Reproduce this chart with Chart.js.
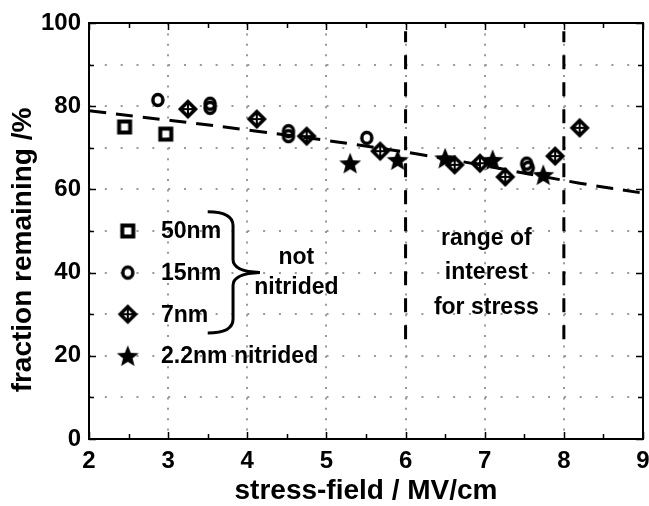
<!DOCTYPE html>
<html>
<head>
<meta charset="utf-8">
<script src="https://cdn.jsdelivr.net/npm/chart.js@4.4.1/dist/chart.umd.min.js"></script>
<style>
  html, body { margin: 0; padding: 0; background: #fff; }
</style>
</head>
<body>
<canvas id="chart" width="649" height="506"></canvas>
<script>
const FONT = '"Liberation Sans", Arial, Helvetica, sans-serif';

// 50nm, not nitrided
const x50 = [2.45, 2.97];
const y50 = [75.0, 73.3];
// 15nm, not nitrided
const x15 = [2.87, 3.53, 3.53, 4.52, 4.52, 5.51, 7.53, 7.55];
const y15 = [81.5, 80.6, 79.6, 74.0, 72.8, 72.4, 66.2, 65.2];
// 7nm, not nitrided
const x7 = [3.25, 4.12, 4.75, 5.68, 6.62, 6.94, 7.26, 7.89, 8.20];
const y7 = [79.3, 76.9, 72.8, 69.2, 65.9, 66.3, 63.0, 68.0, 74.8];
// 2.2nm nitrided
const x22 = [5.30, 5.90, 6.50, 7.10, 7.74];
const y22 = [66.3, 67.1, 67.5, 67.1, 63.5];
// dashed trend line
const xFit = [2, 4.12, 6.15, 8.2, 9];
const yFit = [78.9, 74.0, 68.5, 61.5, 59.1];
// vertical dashed lines bounding the range of interest
const xRange = [6, 8];
const yRangeSpan = [24, 98];

const xTicks = [2, 3, 4, 5, 6, 7, 8, 9];
const yTicks = [0, 20, 40, 60, 80, 100];

function toPoints(xs, ys) {
    return xs.map((x, i) => ({ x: x, y: ys[i] }));
}

// marker pictures (open square, open circle, diamond with cross, filled star)
function makeMarker(kind) {
    const c = document.createElement('canvas');
    const s = kind === 'star' ? 26 : (kind === 'diamond' ? 24 : 20);
    c.width = s; c.height = s;
    const g = c.getContext('2d');
    const m = s / 2;
    g.strokeStyle = '#000';
    g.fillStyle = '#000';
    if (kind === 'square') {
        g.lineWidth = 4;
        g.strokeRect(m - 5.5, m - 5.5, 11, 11);
    } else if (kind === 'circle') {
        g.lineWidth = 3.5;
        g.beginPath();
        g.ellipse(m, m, 5.0, 5.5, 0, 0, Math.PI * 2);
        g.stroke();
    } else if (kind === 'diamond') {
        g.lineWidth = 3.5;
        g.lineJoin = 'miter';
        g.beginPath();
        g.moveTo(m, m - 7.6); g.lineTo(m + 7.6, m); g.lineTo(m, m + 7.6); g.lineTo(m - 7.6, m);
        g.closePath();
        g.stroke();
        g.lineWidth = 2;
        g.beginPath();
        g.moveTo(m, m - 6.5); g.lineTo(m, m + 6.5);
        g.moveTo(m - 6.5, m); g.lineTo(m + 6.5, m);
        g.stroke();
    } else {
        g.beginPath();
        for (let i = 0; i < 10; i++) {
            const r = i % 2 === 0 ? 11.5 : 5;
            const a = -Math.PI / 2 + i * Math.PI / 5;
            const px = m + r * Math.cos(a), py = m + 1 + r * Math.sin(a);
            if (i === 0) g.moveTo(px, py); else g.lineTo(px, py);
        }
        g.closePath();
        g.fill();
    }
    return c;
}

const mkSquare = makeMarker('square');
const mkCircle = makeMarker('circle');
const mkDiamond = makeMarker('diamond');
const mkStar = makeMarker('star');

// frame, inside ticks, legend, brace and notes
const decorations = {
    id: 'decorations',
    afterDatasetsDraw(chart) {
        const ctx = chart.ctx;
        const xs = chart.scales.x, ys = chart.scales.y;
        const a = chart.chartArea;
        const X = v => xs.getPixelForValue(v);
        const Y = v => ys.getPixelForValue(v);
        ctx.save();

        // frame
        ctx.strokeStyle = '#000';
        ctx.lineWidth = 2;
        ctx.strokeRect(a.left, a.top, a.right - a.left, a.bottom - a.top);

        // tick marks pointing inward
        ctx.lineWidth = 1.5;
        ctx.beginPath();
        for (let v = 2; v <= 9.001; v += 0.5) {
            const p = Math.round(X(v)) + 0.5;
            const len = Number.isInteger(v) ? 7 : 5;
            ctx.moveTo(p, a.bottom); ctx.lineTo(p, a.bottom - len);
            ctx.moveTo(p, a.top); ctx.lineTo(p, a.top + len);
        }
        for (let v = 0; v <= 100; v += 10) {
            const p = Math.round(Y(v)) + 0.5;
            const len = v % 20 === 0 ? 7 : 5;
            ctx.moveTo(a.left, p); ctx.lineTo(a.left + len, p);
            ctx.moveTo(a.right, p); ctx.lineTo(a.right - len, p);
        }
        ctx.stroke();

        // legend
        const rows = [
            [mkSquare, '50nm', 50],
            [mkCircle, '15nm', 40],
            [mkDiamond, '7nm', 30],
            [mkStar, '2.2nm nitrided', 20]
        ];
        ctx.fillStyle = '#000';
        ctx.font = 'bold 23px ' + FONT;
        ctx.textBaseline = 'middle';
        ctx.textAlign = 'left';
        rows.forEach(r => {
            const img = r[0];
            ctx.drawImage(img, X(2.49) - img.width / 2, Y(r[2]) - img.height / 2);
            ctx.fillText(r[1], X(2.91), Y(r[2]) + 1);
        });

        // brace grouping the not nitrided samples
        const bx = X(3.82), bl = X(3.5), bt = X(4.16);
        const t = Y(54.6), mid = Y(40), b = Y(25.5);
        ctx.lineWidth = 3;
        ctx.beginPath();
        ctx.moveTo(bl, t);
        ctx.quadraticCurveTo(bx, t, bx, t + 14);
        ctx.lineTo(bx, mid - 13);
        ctx.quadraticCurveTo(bx, mid - 1, bt, mid);
        ctx.quadraticCurveTo(bx, mid + 1, bx, mid + 13);
        ctx.lineTo(bx, b - 14);
        ctx.quadraticCurveTo(bx, b, bl, b);
        ctx.stroke();

        ctx.textAlign = 'center';
        ctx.fillText('not', X(4.62), Y(43.5));
        ctx.fillText('nitrided', X(4.62), Y(36.3));

        ctx.fillText('range of', X(7.02), Y(48.2));
        ctx.fillText('interest', X(7.02), Y(40.0));
        ctx.fillText('for stress', X(7.02), Y(31.5));

        // axis titles
        ctx.font = 'bold 28px ' + FONT;
        ctx.fillText('stress-field / MV/cm', (a.left + a.right) / 2, 491);
        ctx.translate(23, 250);
        ctx.rotate(-Math.PI / 2);
        ctx.fillText('fraction remaining /%', 0, 0);
        ctx.restore();
    }
};

const rangeSets = xRange.map(x => ({
    type: 'line',
    data: toPoints([x, x], yRangeSpan),
    borderColor: '#000',
    borderWidth: 3,
    borderDash: [14, 13],
    pointRadius: 0,
    fill: false
}));

new Chart(document.getElementById('chart'), {
    type: 'scatter',
    data: {
        datasets: [
            { label: '2.2nm nitrided', data: toPoints(x22, y22), pointStyle: mkStar, pointRadius: 10 },
            { label: '7nm', data: toPoints(x7, y7), pointStyle: mkDiamond, pointRadius: 9 },
            { label: '15nm', data: toPoints(x15, y15), pointStyle: mkCircle, pointRadius: 7 },
            { label: '50nm', data: toPoints(x50, y50), pointStyle: mkSquare, pointRadius: 7 },
            {
                type: 'line', label: 'fit', data: toPoints(xFit, yFit),
                borderColor: '#000', borderWidth: 3, borderDash: [17, 10],
                pointRadius: 0, tension: 0.4, fill: false
            },
            ...rangeSets
        ]
    },
    options: {
        responsive: false,
        animation: false,
        events: [],
        layout: { autoPadding: false, padding: { top: 23, right: 6, left: 0, bottom: 0 } },
        plugins: { legend: { display: false }, tooltip: { enabled: false } },
        scales: {
            x: {
                type: 'linear', min: 2, max: 9,
                afterFit: s => { s.height = 67; s.paddingLeft = 0; s.paddingRight = 0; },
                afterBuildTicks: s => { s.ticks = []; for (let v = 2; v <= 9; v += 0.5) s.ticks.push({ value: v }); },
                ticks: {
                    autoSkip: false, maxRotation: 0, padding: 8, color: '#000',
                    font: { family: FONT, size: 24, weight: 'bold' },
                    callback: v => xTicks.includes(v) ? String(v) : ''
                },
                grid: {
                    drawTicks: false, lineWidth: 2,
                    color: c => (Number.isInteger(c.tick.value) && c.tick.value > 2 && c.tick.value < 9) ? '#999' : 'rgba(0,0,0,0)'
                },
                border: { display: false, dash: [2, 8.4] }
            },
            y: {
                type: 'linear', min: 0, max: 100,
                afterFit: s => { s.width = 89; s.paddingTop = 0; s.paddingBottom = 0; },
                afterBuildTicks: s => { s.ticks = []; for (let v = 0; v <= 100; v += 10) s.ticks.push({ value: v }); },
                ticks: {
                    autoSkip: false, padding: 8, color: '#000',
                    font: { family: FONT, size: 24, weight: 'bold' },
                    callback: v => yTicks.includes(v) ? String(v) : ''
                },
                grid: {
                    drawTicks: false, lineWidth: 2,
                    color: c => (c.tick.value > 0 && c.tick.value < 100) ? '#999' : 'rgba(0,0,0,0)'
                },
                border: { display: false, dash: [2, 13.83] }
            }
        }
    },
    plugins: [decorations]
});
</script>
</body>
</html>
